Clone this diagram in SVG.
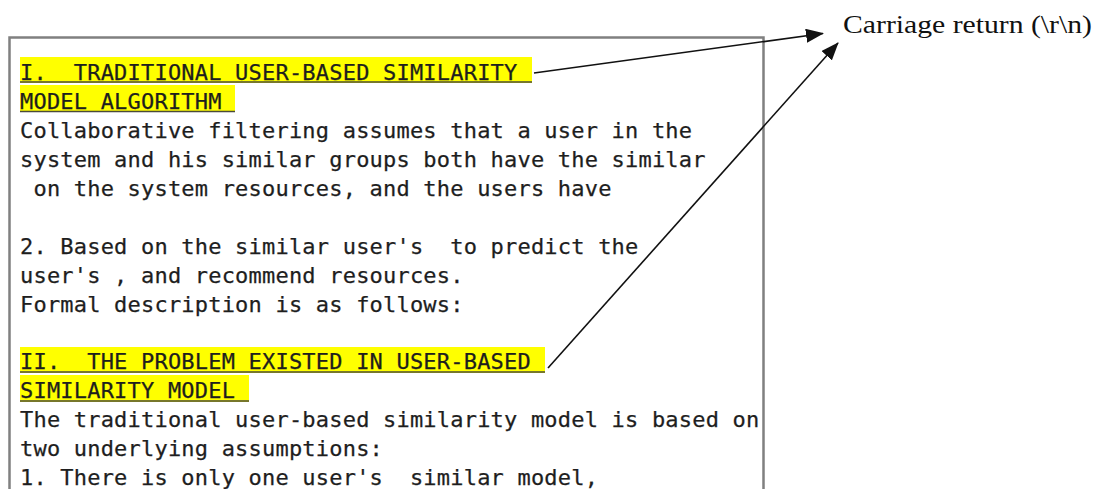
<svg xmlns="http://www.w3.org/2000/svg" width="1101" height="489" viewBox="0 0 1101 489">
  <style>
    .mono { font-family: "DejaVu Sans Mono", "Liberation Mono", monospace; font-size: 22px; letter-spacing: 0.2px; fill: #1e1e1e; stroke: #1e1e1e; stroke-width: 0.25; white-space: pre; }
    .hl { fill: #ffff00; }
    .ul { stroke: #4a4a3a; stroke-width: 1.6; }
    .conn { stroke: #111; stroke-width: 1.6; fill: none; }
    .label { font-family: "Liberation Serif", "Times New Roman", serif; font-size: 26px; fill: #111; }
  </style>
  <defs>
    <marker id="arrow" markerWidth="18" markerHeight="14" refX="17" refY="7" orient="auto" markerUnits="userSpaceOnUse">
      <path d="M0,0 L18,7 L0,14 Z" fill="#111"/>
    </marker>
  </defs>
  <rect width="1101" height="489" fill="#ffffff"/>

  <!-- text document panel -->
  <g id="document">
    <path d="M9.5,500 L9.5,37.5 L763.5,37.5 L763.5,500" fill="none" stroke="#808080" stroke-width="2.5"/>
    <!-- highlighted section headings -->
    <rect class="hl" x="20" y="57" width="512" height="26"/>
    <rect class="hl" x="20" y="85" width="215" height="27"/>
    <rect class="hl" x="20" y="347" width="525" height="26"/>
    <rect class="hl" x="20" y="375" width="229" height="27"/>
    <line class="ul" x1="20" y1="82" x2="532" y2="82"/>
    <line class="ul" x1="20" y1="111.5" x2="235" y2="111.5"/>
    <line class="ul" x1="20" y1="372" x2="545" y2="372"/>
    <line class="ul" x1="20" y1="401" x2="249" y2="401"/>
    <text class="mono" x="20" y="79.5">I.  TRADITIONAL USER-BASED SIMILARITY </text>
    <text class="mono" x="20" y="108.5">MODEL ALGORITHM </text>
    <text class="mono" x="20" y="137.5">Collaborative filtering assumes that a user in the</text>
    <text class="mono" x="20" y="166.5">system and his similar groups both have the similar</text>
    <text class="mono" x="20" y="195.5"> on the system resources, and the users have</text>
    <text class="mono" x="20" y="253.5">2. Based on the similar user's  to predict the</text>
    <text class="mono" x="20" y="282.5">user's , and recommend resources.</text>
    <text class="mono" x="20" y="311.5">Formal description is as follows:</text>
    <text class="mono" x="20" y="369">II.  THE PROBLEM EXISTED IN USER-BASED </text>
    <text class="mono" x="20" y="398">SIMILARITY MODEL </text>
    <text class="mono" x="20" y="427">The traditional user-based similarity model is based on</text>
    <text class="mono" x="20" y="456">two underlying assumptions:</text>
    <text class="mono" x="20" y="485">1. There is only one user's  similar model,</text>
  </g>

  <!-- callout label -->
  <g id="label">
    <text class="label" x="843" y="33" textLength="249" lengthAdjust="spacingAndGlyphs">Carriage return (\r\n)</text>
  </g>

  <!-- connectors -->
  <g id="connectors">
    <line class="conn" x1="534" y1="73" x2="823" y2="33.5" marker-end="url(#arrow)"/>
    <line class="conn" x1="548" y1="368" x2="838" y2="43" marker-end="url(#arrow)"/>
  </g>
</svg>
